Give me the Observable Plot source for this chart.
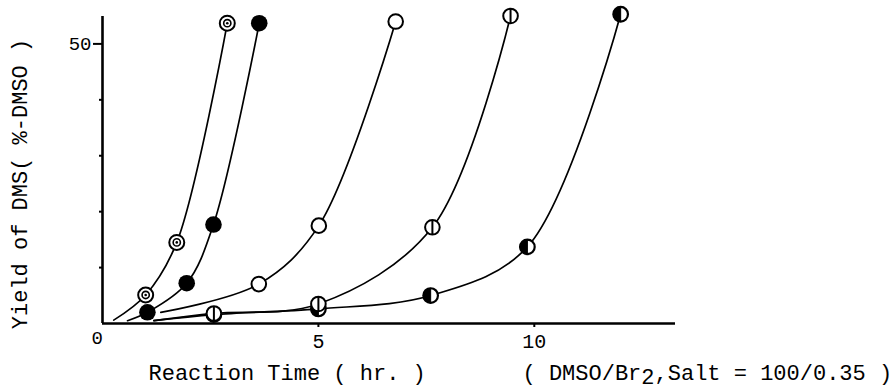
<!DOCTYPE html>
<html>
<head>
<meta charset="utf-8">
<script src="https://cdn.jsdelivr.net/npm/d3@7"></script>
<script src="https://cdn.jsdelivr.net/npm/@observablehq/plot@0.6"></script>
<style>
  html, body { margin: 0; padding: 0; background: #fff; }
  svg { display: block; }
</style>
</head>
<body>
<div id="chart"></div>
<script>
// Series (x: reaction time in hr, y: yield %-DMSO)
const ringT   = [1.00, 1.72, 2.89];
const ringY   = [5.1, 14.5, 53.7];
const filledT = [1.04, 1.95, 2.57, 3.63];
const filledY = [2.0, 7.2, 17.7, 53.7];
const openT   = [3.62, 5.01, 6.79];
const openY   = [7.05, 17.5, 54.0];
const barT    = [2.58, 5.00, 7.64, 9.45];
const barY    = [1.8, 3.5, 17.2, 55.0];
const halfT   = [2.58, 5.00, 7.60, 9.84, 12.00];
const halfY   = [1.6, 2.6, 5.0, 13.7, 55.3];

// where each drawn curve begins (no marker there)
const startT = [0.26, 0.58, 1.35, 1.19, 1.19];
const startY = [0.6, 0.5, 2.0, 0.5, 0.5];

const xTicks = [5, 10];
const yMajor = [50];
const yMinor = [10, 20, 30, 40];

const seriesT = [ringT, filledT, openT, barT, halfT];
const seriesY = [ringY, filledY, openY, barY, halfY];
const names = ["ring", "filled", "open", "bar", "half"];

const curves = [];
const pts = {};
names.forEach((n, i) => {
  curves.push({s: n, t: startT[i], y: startY[i]});
  pts[n] = seriesT[i].map((t, j) => ({s: n, t, y: seriesY[i][j]}));
  pts[n].forEach(p => curves.push(p));
});

const vbar = {draw(ctx, size) { const r = Math.sqrt(size / Math.PI); ctx.moveTo(0, -r); ctx.lineTo(0, r); }};
const leftHalf = {draw(ctx, size) { const r = Math.sqrt(size / Math.PI); ctx.moveTo(0, -r); ctx.arc(0, 0, r, -Math.PI / 2, Math.PI / 2, true); ctx.closePath(); }};

const font = "Liberation Mono, Courier New, monospace";

const chart = Plot.plot({
  width: 896,
  height: 390,
  marginLeft: 102,
  marginRight: 221,
  marginTop: 16,
  marginBottom: 67,
  style: {fontFamily: font, fontSize: "20px", color: "#000", background: "#fff"},
  x: {domain: [0, 13.27], axis: null},
  y: {domain: [0, 54.9], axis: null},
  marks: [
    Plot.line(curves, {x: "t", y: "y", z: "s", curve: "catmull-rom", stroke: "#000", strokeWidth: 1.7}),
    Plot.ruleX([0], {stroke: "#000", strokeWidth: 2.6}),
    Plot.ruleY([0], {stroke: "#000", strokeWidth: 2.6}),
    Plot.axisY(yMajor, {tickSize: 9, tickPadding: 2, fontSize: 19, tickFormat: d => String(d), strokeWidth: 2, label: null}),
    Plot.axisY(yMinor, {tickSize: 3, tickFormat: () => "", strokeWidth: 2, label: null}),
    Plot.axisX(xTicks, {tickSize: 4, tickPadding: 6, fontSize: 20, tickFormat: d => String(d), label: null, strokeWidth: 2}),
    Plot.text(["0"], {frameAnchor: "bottom-left", dx: -11, dy: 14, fontSize: 19, lineAnchor: "middle"}),
    // ring markers
    Plot.dot(pts.ring, {x: "t", y: "y", r: 7.5, fill: "#fff", stroke: "#000", strokeWidth: 2}),
    Plot.dot(pts.ring, {x: "t", y: "y", r: 3.6, fill: "#fff", stroke: "#000", strokeWidth: 1.6}),
    Plot.dot(pts.ring, {x: "t", y: "y", r: 1.3, fill: "#000"}),
    // filled markers
    Plot.dot(pts.filled, {x: "t", y: "y", r: 8.3, fill: "#000"}),
    // open markers
    Plot.dot(pts.open, {x: "t", y: "y", r: 7.3, fill: "#fff", stroke: "#000", strokeWidth: 2}),
    // half-filled markers
    Plot.dot(pts.half, {x: "t", y: "y", r: 7.3, fill: "#fff", stroke: "#000", strokeWidth: 2.2}),
    Plot.dot(pts.half, {x: "t", y: "y", r: 7.3, symbol: leftHalf, fill: "#000", stroke: "#000", strokeWidth: 1}),
    // barred markers
    Plot.dot(pts.bar, {x: "t", y: "y", r: 7.3, fill: "#fff", stroke: "#000", strokeWidth: 2}),
    Plot.dot(pts.bar, {x: "t", y: "y", r: 7.3, symbol: vbar, fill: "none", stroke: "#000", strokeWidth: 2}),
    // axis titles
    Plot.text(["Yield of DMS( %-DMSO )"], {frameAnchor: "left", dx: -83, dy: 14, rotate: -90, fontSize: 22, textAnchor: "middle", lineAnchor: "middle"}),
    Plot.text(["Reaction Time ( hr. )"], {frameAnchor: "bottom-left", dx: 46, dy: 56, fontSize: 22, textAnchor: "start", lineAnchor: "bottom"}),
    Plot.text(["( DMSO/Br2,Salt = 100/0.35 )"], {frameAnchor: "bottom-left", dx: 420, dy: 56, fontSize: 22, textAnchor: "start", lineAnchor: "bottom"})
  ]
});

// subscript the "2" of Br2
d3.select(chart).selectAll("text").each(function() {
  const t = d3.select(this);
  if (t.text() === "( DMSO/Br2,Salt = 100/0.35 )") {
    t.text(null);
    t.append("tspan").text("( DMSO/Br");
    t.append("tspan").attr("dy", "4").text("2");
    t.append("tspan").attr("dy", "-4").text(",Salt = 100/0.35 )");
  }
});

document.getElementById("chart").append(chart);
</script>
</body>
</html>
